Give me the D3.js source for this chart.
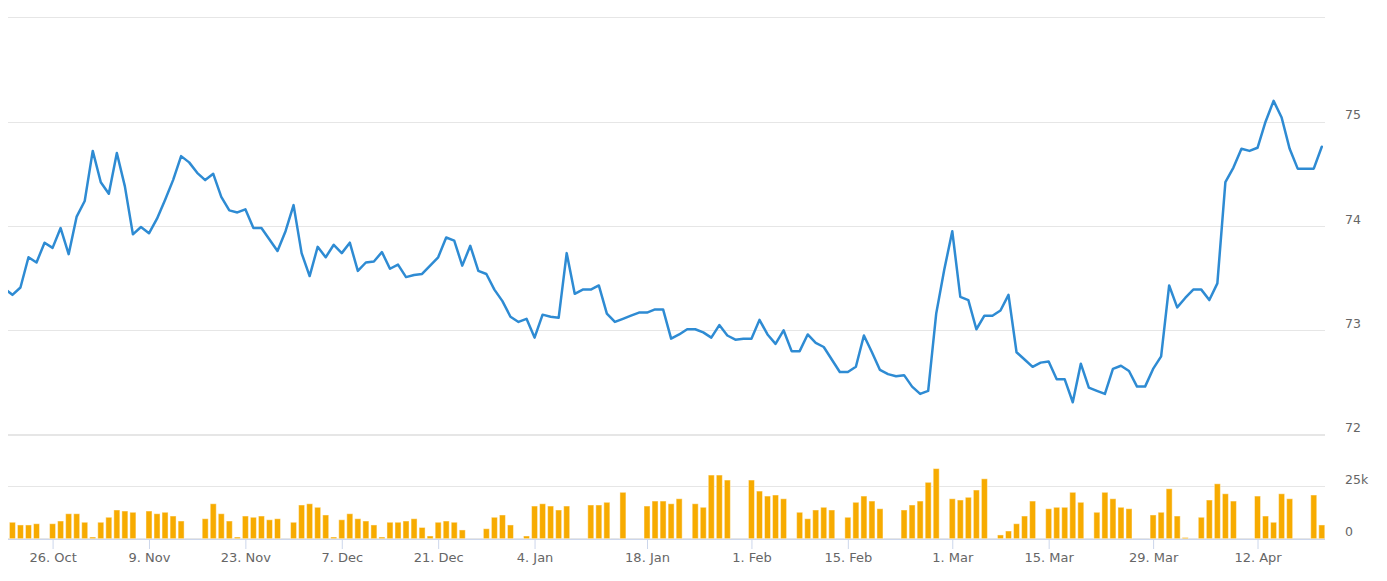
<!DOCTYPE html>
<html>
<head>
<meta charset="utf-8">
<script src="https://cdn.jsdelivr.net/npm/d3@7"></script>
<style>
  html, body { margin: 0; padding: 0; background: #ffffff; }
  svg { display: block; font-family: "DejaVu Sans", Verdana, sans-serif; }
</style>
</head>
<body>
<svg id="chart" width="1387" height="581"></svg>
<script>
// Price series (index -1 is the partially visible point left of the plot)
const priceStartIndex = -1;
const prices = [
  73.40,
  73.34, 73.41, 73.70, 73.65, 73.84, 73.79, 73.98, 73.73, 74.09, 74.24,
  74.72, 74.42, 74.31, 74.70, 74.38, 73.92, 73.99, 73.93, 74.07, 74.25,
  74.44, 74.67, 74.61, 74.51, 74.44, 74.50, 74.28, 74.15, 74.13, 74.16,
  73.98, 73.98, 73.87, 73.76, 73.95, 74.20, 73.74, 73.52, 73.80, 73.70,
  73.82, 73.74, 73.84, 73.57, 73.65, 73.66, 73.75, 73.59, 73.63, 73.51,
  73.53, 73.54, 73.62, 73.70, 73.89, 73.86, 73.62, 73.81, 73.57, 73.54,
  73.39, 73.28, 73.13, 73.08, 73.11, 72.93, 73.15, 73.13, 73.12, 73.74,
  73.35, 73.39, 73.39, 73.43, 73.16, 73.08, 73.11, 73.14, 73.17, 73.17,
  73.20, 73.20, 72.92, 72.96, 73.01, 73.01, 72.98, 72.93, 73.05, 72.95,
  72.91, 72.92, 72.92, 73.10, 72.96, 72.87, 73.00, 72.80, 72.80, 72.96,
  72.88, 72.84, 72.72, 72.60, 72.60, 72.65, 72.95, 72.79, 72.62, 72.58,
  72.56, 72.57, 72.46, 72.39, 72.42, 73.16, 73.58, 73.95, 73.32, 73.29,
  73.01, 73.14, 73.14, 73.19, 73.34, 72.79, 72.72, 72.65, 72.69, 72.70,
  72.53, 72.53, 72.31, 72.68, 72.45, 72.42, 72.39, 72.63, 72.66, 72.61,
  72.46, 72.46, 72.63, 72.75, 73.43, 73.22, 73.31, 73.39, 73.39, 73.29,
  73.45, 74.42, 74.56, 74.74, 74.72, 74.75, 75.00, 75.20, 75.04, 74.74,
  74.55, 74.55, 74.55, 74.76
];

// Volume series in thousands (index 0..163)
const volumes = [
  7.9, 6.6, 6.6, 7.2, 0, 7.2, 8.5, 12, 12, 7.9,
  0.8, 7.9, 10.3, 13.8, 13.3, 12.7, 0, 13.3, 12, 12.7,
  10.9, 8.5, 0, 0, 9.6, 16.8, 12, 8.5, 0.8, 10.9,
  10.3, 10.9, 9.1, 9.6, 0, 7.9, 16.2, 16.8, 15.1, 11.4,
  0.8, 9.1, 12, 9.6, 8.5, 6.6, 0.8, 7.9, 7.9, 8.5,
  9.6, 5.4, 1.3, 7.9, 8.5, 7.9, 4.2, 0, 0, 4.8,
  10.3, 11.4, 6.6, 0, 1.3, 15.7, 16.8, 15.7, 13.8, 15.7,
  0, 0, 16.2, 16.2, 17.5, 0, 22.3, 0, 0, 15.7,
  18.1, 18.1, 16.8, 19.2, 0, 16.8, 15.1, 30.6, 30.6, 28.2,
  0, 0, 28.2, 22.9, 20.5, 21, 19.2, 0, 12.7, 9.6,
  13.8, 15.1, 13.8, 0, 10.3, 17.5, 20.5, 18.1, 14.4, 0,
  0, 13.8, 16.2, 18.1, 27.1, 33.7, 0, 19.2, 18.6, 19.9,
  23.4, 28.8, 0, 1.8, 3.7, 7.2, 10.9, 18.1, 0, 14.4,
  15.1, 15.1, 22.3, 17.5, 0, 12.7, 22.3, 19.2, 15.1, 14.4,
  0, 0, 11.4, 12.7, 24, 10.9, 0.6, 0, 10.3, 18.6,
  26.4, 21.6, 18.1, 0, 0, 20.5, 10.9, 7.9, 21.6, 19.2,
  0, 0, 21, 6.6
];

// X-axis tick positions (trading-day index) and labels
const tickIndex  = [5, 17, 29, 41, 53, 65, 79, 92, 104, 117, 129, 142, 155];
const tickLabels = ["26. Oct", "9. Nov", "23. Nov", "7. Dec", "21. Dec", "4. Jan",
                    "18. Jan", "1. Feb", "15. Feb", "1. Mar", "15. Mar", "29. Mar", "12. Apr"];

// Y-axis ticks
const priceGrid   = [72, 73, 74, 75, 76];
const priceLabels = [72, 73, 74, 75];
const volumeGrid  = [0, 25, 50];
const volumeLabels = [0, 25];

const svg = d3.select("#chart");
const plotLeft = 8, plotRight = 1325;

const x = d3.scaleLinear().domain([-0.55, 163.4]).range([plotLeft, plotRight]);
const yP = d3.scaleLinear().domain([72, 75]).range([434.6, 121.7]);
const yV = d3.scaleLinear().domain([0, 25]).range([538.7, 486.7]);

// clip
svg.append("defs").append("clipPath").attr("id", "plotClip")
  .append("rect").attr("x", plotLeft).attr("y", 0).attr("width", plotRight - plotLeft).attr("height", 581);

// Grid lines
const grid = svg.append("g");
grid.selectAll("line.pg").data(priceGrid).join("line")
  .attr("x1", plotLeft).attr("x2", plotRight)
  .attr("y1", d => Math.round(yP(d)) + 0.5).attr("y2", d => Math.round(yP(d)) + 0.5)
  .attr("stroke", "#e6e6e6").attr("stroke-width", 1);
grid.selectAll("line.vg").data(volumeGrid).join("line")
  .attr("x1", plotLeft).attr("x2", plotRight)
  .attr("y1", d => Math.round(yV(d)) - 0.5).attr("y2", d => Math.round(yV(d)) - 0.5)
  .attr("stroke", "#e6e6e6").attr("stroke-width", 1);

// Volume bars
const barW = 6;
const vData = volumes.map((v, i) => ({ i, v })).filter(d => d.v > 0);
svg.append("g").attr("clip-path", "url(#plotClip)")
  .selectAll("rect").data(vData).join("rect")
  .attr("x", d => x(d.i) - barW / 2)
  .attr("width", barW)
  .attr("y", d => yV(d.v))
  .attr("height", d => yV(0) - yV(d.v))
  .attr("fill", "#f7ab00")
  .attr("stroke", "#ffffff")
  .attr("stroke-opacity", 0.45)
  .attr("stroke-width", 1);

// X axis
const xAxis = d3.axisBottom(x)
  .tickValues(tickIndex)
  .tickFormat((d, i) => tickLabels[i])
  .tickSize(10)
  .tickSizeOuter(0)
  .tickPadding(4);
const gx = svg.append("g").attr("transform", "translate(0,539)").call(xAxis);
gx.select(".domain").attr("stroke", "#ccd6eb").attr("d", `M${plotLeft},0.5H${plotRight}`);
gx.selectAll(".tick line").attr("stroke", "#ccd6eb");
gx.selectAll(".tick text").attr("fill", "#666666").style("font-size", "13px")
  .style("font-family", '"DejaVu Sans", Verdana, sans-serif');

// Price line
const priceData = prices.map((v, k) => ({ i: k + priceStartIndex, v }));
const line = d3.line().x(d => x(d.i)).y(d => yP(d.v));
svg.append("path").datum(priceData)
  .attr("clip-path", "url(#plotClip)")
  .attr("d", line)
  .attr("fill", "none")
  .attr("stroke", "#2e8bd3")
  .attr("stroke-width", 2.5)
  .attr("stroke-linejoin", "round")
  .attr("stroke-linecap", "round");

// Y axes (right side labels)
const yAxisP = d3.axisRight(yP).tickValues(priceLabels).tickSize(0).tickPadding(0).tickFormat(d3.format("d"));
const gyp = svg.append("g").attr("transform", "translate(1345,0)").call(yAxisP);
gyp.select(".domain").remove();
gyp.selectAll(".tick text").attr("dy", -3).attr("fill", "#666666").style("font-size", "12.5px")
  .style("font-family", '"DejaVu Sans", Verdana, sans-serif');

const yAxisV = d3.axisRight(yV).tickValues(volumeLabels).tickSize(0).tickPadding(0)
  .tickFormat(d => d === 0 ? "0" : d + "k");
const gyv = svg.append("g").attr("transform", "translate(1345,0)").call(yAxisV);
gyv.select(".domain").remove();
gyv.selectAll(".tick text").attr("dy", -3).attr("fill", "#666666").style("font-size", "12.5px")
  .style("font-family", '"DejaVu Sans", Verdana, sans-serif');
</script>
</body>
</html>
